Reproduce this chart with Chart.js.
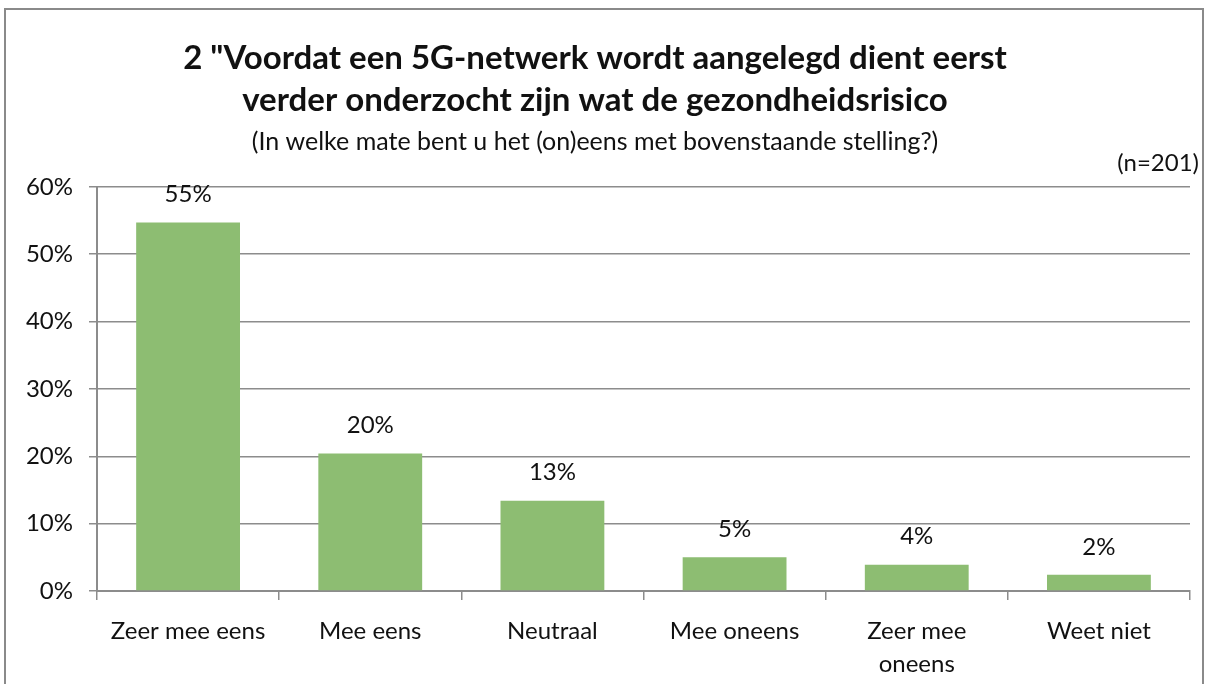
<!DOCTYPE html>
<html>
<head>
<meta charset="utf-8">
<script src="https://cdn.jsdelivr.net/npm/chart.js@4/dist/chart.umd.min.js"></script>
<style>
  html, body { margin: 0; padding: 0; background: #fff; }
  #wrap { position: relative; width: 1208px; height: 684px; }
  #frame { position: absolute; left: 4px; top: 8px; width: 1196px; height: 690px; border: 2px solid #8a8a8a; }
  canvas { position: absolute; left: 0; top: 0; }
</style>
</head>
<body>
<div id="wrap">
  <div id="frame"></div>
  <canvas id="chart" width="1208" height="684"></canvas>
</div>
<script>
/* global Chart */

var categories = ['Zeer mee eens', 'Mee eens', 'Neutraal', 'Mee oneens', ['Zeer mee', 'oneens'], 'Weet niet']
var values = [54.7, 20.4, 13.4, 5.0, 3.9, 2.4]
var valueLabels = ['55%', '20%', '13%', '5%', '4%', '2%']
var titleLines = ['2 "Voordat een 5G-netwerk wordt aangelegd dient eerst', 'verder onderzocht zijn wat de gezondheidsrisico']
var subtitleText = '(In welke mate bent u het (on)eens met bovenstaande stelling?)'
var sampleNote = '(n=201)'

var fontFamily = 'Lato, "Open Sans", sans-serif'
var gridColor = '#8c8c8c'

// value labels above bars + the (n=201) note
var extraText = {
  id: 'extraText',
  afterDatasetsDraw (chart) {
    var ctx = chart.ctx
    var meta = chart.getDatasetMeta(0)
    ctx.save()
    ctx.font = '24px ' + fontFamily
    ctx.fillStyle = '#111'
    ctx.textAlign = 'center'
    ctx.textBaseline = 'middle'
    meta.data.forEach((bar, i) => {
      ctx.fillText(valueLabels[i], bar.x, bar.y - 28)
    })
    ctx.textAlign = 'right'
    ctx.fillText(sampleNote, 1199, 163)
    ctx.restore()
  }
}

new Chart(document.getElementById('chart').getContext('2d'), {
  type: 'bar',
  data: {
    labels: categories,
    datasets: [{
      data: values,
      backgroundColor: '#8dbd72',
      borderWidth: 0,
      barPercentage: 0.57,
      categoryPercentage: 1
    }]
  },
  options: {
    responsive: false,
    animation: false,
    layout: { padding: { left: 0, right: 18, top: 37, bottom: 0 } },
    plugins: {
      legend: { display: false },
      tooltip: { enabled: false },
      title: {
        display: true,
        text: titleLines,
        color: '#111',
        font: { family: fontFamily, size: 33, weight: 'bold', lineHeight: 1.27 },
        padding: { top: 0, bottom: 0 }
      },
      subtitle: {
        display: true,
        text: subtitleText,
        color: '#111',
        font: { family: fontFamily, size: 25, lineHeight: 1.2 },
        padding: { top: 6, bottom: 30 }
      }
    },
    scales: {
      x: {
        afterFit (scale) { scale.height = 93 },
        grid: { drawOnChartArea: false, drawTicks: true, tickLength: 9, color: gridColor, lineWidth: 1.5, offset: true },
        border: { color: gridColor, width: 2 },
        ticks: {
          color: '#111',
          font: { family: fontFamily, size: 24, lineHeight: 1.4 },
          padding: 14,
          maxRotation: 0,
          autoSkip: false
        }
      },
      y: {
        min: 0,
        max: 60,
        afterFit (scale) { scale.width = 97 },
        grid: { color: gridColor, lineWidth: 1.5, tickLength: 8 },
        border: { color: gridColor, width: 2 },
        ticks: {
          stepSize: 10,
          color: '#111',
          font: { family: fontFamily, size: 24 },
          padding: 16,
          callback: (v) => v + '%'
        }
      }
    }
  },
  plugins: [extraText]
})
</script>
</body>
</html>
